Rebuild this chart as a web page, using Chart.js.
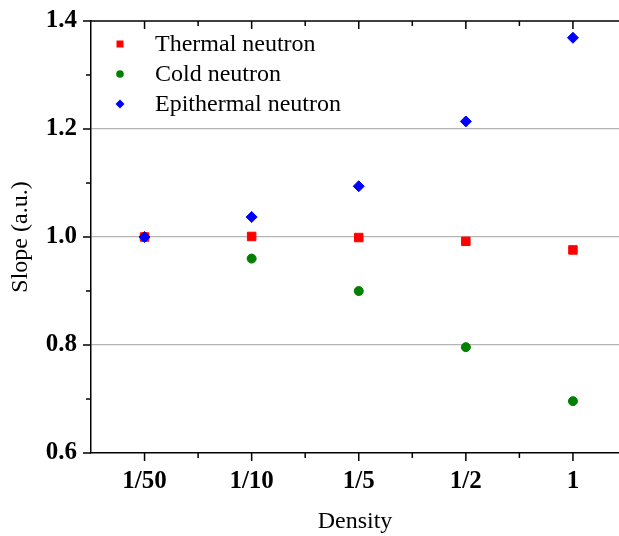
<!DOCTYPE html>
<html>
<head>
<meta charset="utf-8">
<script src="https://cdn.jsdelivr.net/npm/chart.js@4.4.1/dist/chart.umd.min.js"></script>
<style>
  html, body { margin: 0; padding: 0; background: #fff; overflow: hidden; }
  #wrap { position: relative; width: 619px; height: 536px; overflow: hidden; }
  /* canvas is a bit larger than the view so the plot frame runs to the right edge */
  #c { position: absolute; left: 0; top: -8px; }
</style>
</head>
<body>
<div id="wrap"><canvas id="c" width="626" height="544"></canvas></div>
<script>
// Slope vs density for three neutron groups.
const DENSITY = ['1/50', '1/10', '1/5', '1/2', '1'];
const THERMAL = [1.0, 1.001, 0.999, 0.992, 0.976];
const COLD = [1.0, 0.96, 0.90, 0.796, 0.696];
const EPITHERMAL = [1.0, 1.037, 1.094, 1.214, 1.369];

const Y_TICKS = [0.6, 0.8, 1.0, 1.2, 1.4];
const Y_MINOR = [0.7, 0.9, 1.1, 1.3];
const X_MAJOR = [1, 2, 3, 4, 5];
const X_MINOR = [1.5, 2.5, 3.5, 4.5];

const SERIF = '"Liberation Serif", "Times New Roman", serif';

const toPoints = (vals) => vals.map((y, i) => ({ x: i + 1, y }));

const series = [
  { label: 'Thermal neutron', data: THERMAL, color: '#ff0000', style: 'rect', radius: 6, order: 1 },
  { label: 'Cold neutron', data: COLD, color: '#008000', style: 'circle', radius: 4.5, order: 2 },
  { label: 'Epithermal neutron', data: EPITHERMAL, color: '#0000ff', style: 'rectRot', radius: 5.5, order: 0 },
];

// axis frame: outward ticks on bottom/left, inward ticks on top, top border
const frameTicks = {
  id: 'frameTicks',
  afterDraw(chart) {
    const { ctx, chartArea: a, scales: { x, y } } = chart;
    ctx.save();
    ctx.strokeStyle = '#000';
    ctx.lineWidth = 1.5;
    ctx.beginPath();
    ctx.moveTo(a.left, a.top);
    ctx.lineTo(a.right + 10, a.top);
    const tick = (px, len) => {
      ctx.moveTo(px, a.bottom);
      ctx.lineTo(px, a.bottom + len);
      ctx.moveTo(px, a.top);
      ctx.lineTo(px, a.top + len);
    };
    X_MAJOR.forEach((v) => tick(x.getPixelForValue(v), 8));
    X_MINOR.forEach((v) => tick(x.getPixelForValue(v), 5));
    Y_TICKS.forEach((v) => {
      const py = y.getPixelForValue(v);
      ctx.moveTo(a.left - 8, py);
      ctx.lineTo(a.left, py);
    });
    Y_MINOR.forEach((v) => {
      const py = y.getPixelForValue(v);
      ctx.moveTo(a.left - 5, py);
      ctx.lineTo(a.left, py);
    });
    ctx.stroke();
    ctx.restore();
  },
};

// legend drawn inside the plot, top-left
const insideLegend = {
  id: 'insideLegend',
  afterDraw(chart) {
    const { ctx, chartArea: a } = chart;
    const rows = [23, 53, 83];
    ctx.save();
    ctx.font = '24px ' + SERIF;
    ctx.textBaseline = 'middle';
    series.forEach((s, i) => {
      const cy = a.top + rows[i];
      const cx = a.left + 29;
      ctx.fillStyle = s.color;
      ctx.beginPath();
      if (s.style === 'rect') {
        ctx.rect(cx - 3.5, cy - 3.5, 7, 7);
      } else if (s.style === 'circle') {
        ctx.arc(cx, cy, 3.8, 0, Math.PI * 2);
      } else {
        ctx.moveTo(cx, cy - 4.5);
        ctx.lineTo(cx + 4.5, cy);
        ctx.lineTo(cx, cy + 4.5);
        ctx.lineTo(cx - 4.5, cy);
        ctx.closePath();
      }
      ctx.fill();
      ctx.fillStyle = '#000';
      ctx.fillText(s.label, a.left + 64, cy + 1);
    });
    ctx.restore();
  },
};

new Chart(document.getElementById('c').getContext('2d'), {
  type: 'scatter',
  data: {
    datasets: series.map((s) => ({
      label: s.label,
      data: toPoints(s.data),
      pointStyle: s.style,
      pointRadius: s.radius,
      pointHoverRadius: s.radius,
      backgroundColor: s.color,
      borderColor: s.color,
      borderWidth: 1,
      order: s.order,
    })),
  },
  options: {
    responsive: false,
    animation: false,
    events: [],
    layout: { padding: 0 },
    scales: {
      x: {
        type: 'linear',
        min: 0.5,
        max: 5.43,
        afterBuildTicks: (scale) => { scale.ticks = X_MAJOR.map((v) => ({ value: v })); },
        afterFit: (scale) => { scale.height = 83; },
        grid: { display: false },
        border: { display: true, color: '#000', width: 1.5 },
        ticks: {
          padding: 6,
          color: '#000',
          font: { family: SERIF, size: 25, weight: 'bold' },
          maxRotation: 0,
          callback: (v) => DENSITY[v - 1] ?? '',
        },
        title: {
          display: true,
          text: 'Density',
          color: '#000',
          font: { family: SERIF, size: 24 },
          padding: { top: 10, bottom: 0 },
        },
      },
      y: {
        min: 0.6,
        max: 1.4,
        afterBuildTicks: (scale) => { scale.ticks = Y_TICKS.map((v) => ({ value: v })); },
        afterFit: (scale) => { scale.width = 91; },
        grid: {
          drawTicks: false,
          color: (ctx) => (ctx.tick && (ctx.tick.value === 0.6 || ctx.tick.value === 1.4) ? 'rgba(0,0,0,0)' : '#b4b4b4'),
          lineWidth: 1.2,
        },
        border: { display: true, color: '#000', width: 1.5 },
        ticks: {
          padding: 14,
          color: '#000',
          font: { family: SERIF, size: 25, weight: 'bold' },
          callback: (v) => v.toFixed(1),
        },
        title: {
          display: true,
          text: 'Slope (a.u.)',
          color: '#000',
          font: { family: SERIF, size: 24 },
          padding: { top: 6, bottom: 4 },
        },
      },
    },
    plugins: {
      legend: { display: false },
      tooltip: { enabled: false },
    },
  },
  plugins: [frameTicks, insideLegend],
});
</script>
</body>
</html>
